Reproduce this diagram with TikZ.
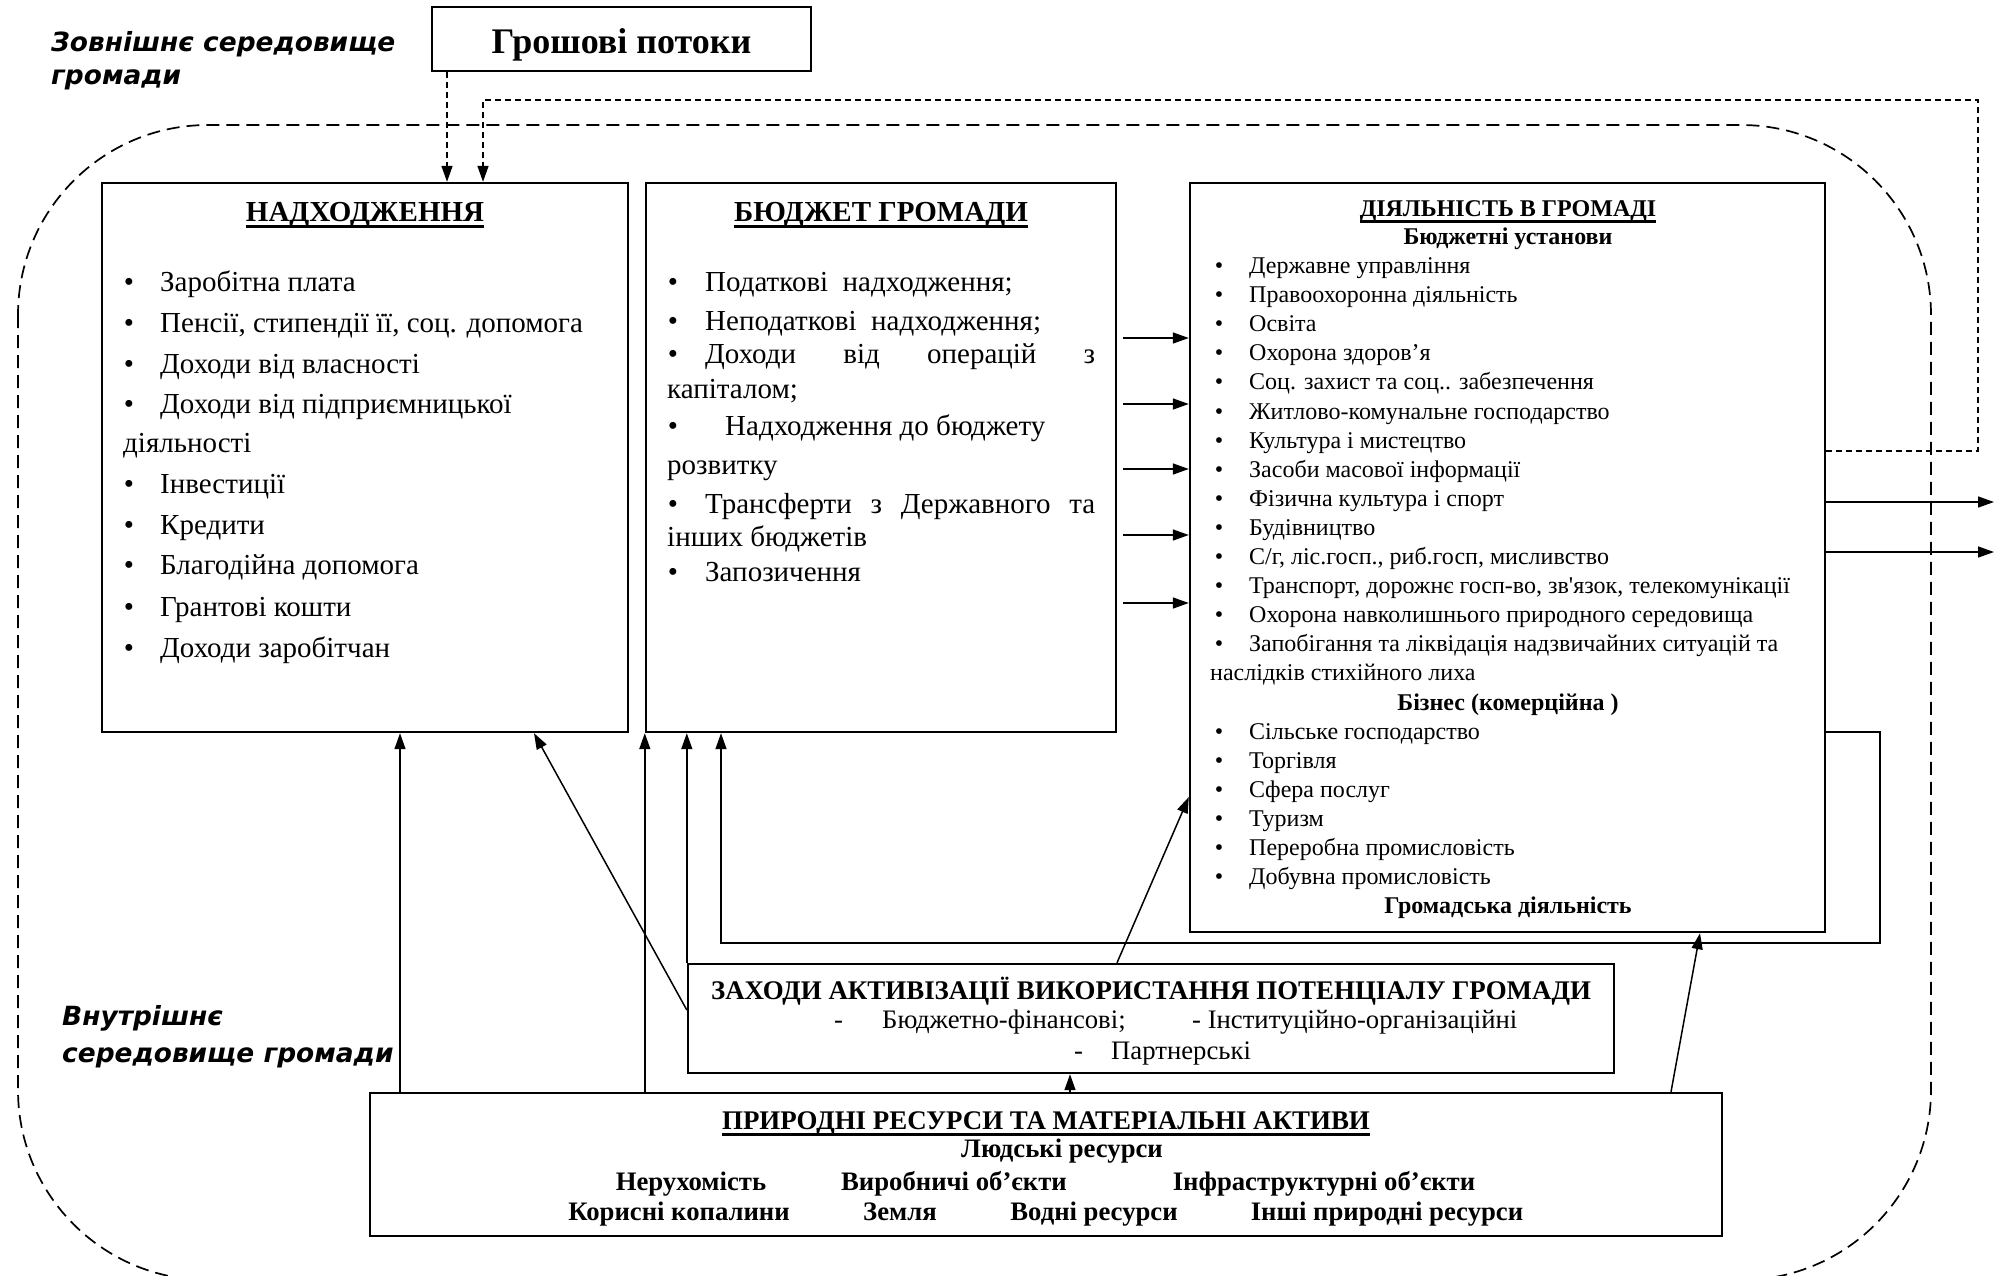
\documentclass[tikz,border=0pt]{standalone}
\usepackage{fontspec}
\setmainfont{Liberation Serif}
\newfontfamily\envfont{DejaVu Sans}
\usetikzlibrary{arrows.meta}

\newsavebox\ulsave
\newcommand\ulbox[1]{\sbox\ulsave{#1}\rlap{\vrule width\wd\ulsave height -3pt depth 6pt}\usebox\ulsave}

\tikzset{
  box/.style={draw, line width=2.4pt, inner sep=0pt},
  arr/.style={line width=1.5pt, -{Triangle[length=16pt,width=11pt]}},
  envline/.style={line width=1.7pt, dash pattern=on 13pt off 7pt},
  fbline/.style={line width=1.6pt, dash pattern=on 6pt off 4pt, -{Triangle[length=16pt,width=11pt]}},
  bigtext/.style={inner sep=0pt, font=\fontsize{29}{35}\selectfont, text height=25pt, text depth=4pt},
  bigtitle/.style={bigtext, font=\bfseries\fontsize{29}{35}\selectfont},
  smalltext/.style={inner sep=0pt, font=\fontsize{24}{29}\selectfont, text height=21pt, text depth=2pt},
  smallbold/.style={smalltext, font=\bfseries\fontsize{24}{29}\selectfont},
  midtext/.style={inner sep=0pt, font=\fontsize{26.7}{32}\selectfont, text height=21pt, text depth=2pt},
  midbold/.style={midtext, font=\bfseries\fontsize{26.7}{32}\selectfont},
  midtitle/.style={midtext, font=\bfseries\fontsize{26.9}{32}\selectfont},
  envlabel/.style={inner sep=0pt, anchor=west, text height=24pt, text depth=4pt,
    font=\envfont\bfseries\itshape\fontsize{26.4}{31}\selectfont},
}

\begin{document}
\begin{tikzpicture}[x=1pt,y=-1pt]
\useasboundingbox (0,0) rectangle (2002,1275);

% environment of the community
\draw[envline, rounded corners=190pt] (18,125) rectangle (1931,1280);
\node[envlabel] (outer1) at (51,41) {Зовнішнє середовище};
\node[envlabel] (outer2) at (51,74) {громади};
\node[envlabel] (inner1) at (62,1015) {Внутрішнє};
\node[envlabel] (inner2) at (62,1052) {середовище громади};

% boxes
\node[box, minimum width=379pt, minimum height=64pt, text height=30pt, text depth=2pt,
  font=\bfseries\fontsize{36}{40}\selectfont] (groshi) at (621.5,39) {Грошові потоки};
\node[box, minimum width=526pt, minimum height=549pt] (nadkh) at (365,457.5) {};
\node[box, minimum width=470pt, minimum height=549pt] (budget) at (881,457.5) {};
\node[box, minimum width=635pt, minimum height=749pt] (diial) at (1507.5,557.5) {};
\node[box, minimum width=926pt, minimum height=109pt] (zakhody) at (1151,1018.5) {};
\node[box, minimum width=1352pt, minimum height=143pt] (resursy) at (1046,1164.5) {};

% incomes
\node[bigtitle] (nadkhT) at (365,211) {\ulbox{НАДХОДЖЕННЯ}};
\foreach \yy/\txt in {281/Заробітна плата, 322/{Пенсії, стипендії її, соц. допомога},
    363/Доходи від власності, 403/Доходи від підприємницької, 483/Інвестиції,
    524/Кредити, 564/Благодійна допомога, 606/Грантові кошти, 647/Доходи заробітчан} {
  \node[bigtext] (nb\yy) at (129,\yy) {•};
  \node[bigtext, anchor=west] (nt\yy) at (160,\yy) {\txt};
}
\node[bigtext, anchor=west] (nt442) at (123,442) {діяльності};

% budget
\node[bigtitle] (budgetT) at (881,211) {\ulbox{БЮДЖЕТ ГРОМАДИ}};
\foreach \yy in {281,320,353,425,503,571}
  \node[bigtext] (bb\yy) at (673,\yy) {•};
\node[bigtext, anchor=west] (bt281) at (705,281) {Податкові~~надходження;};
\node[bigtext, anchor=west] (bt320) at (705,320) {Неподаткові~~надходження;};
\node[bigtext, anchor=west] (bt353) at (705,353) {\hbox to 390pt{Доходи\hfill від\hfill операцій\hfill з}};
\node[bigtext, anchor=west] (bt388) at (667,388) {капіталом;};
\node[bigtext, anchor=west] (bt425) at (725,425) {Надходження до бюджету};
\node[bigtext, anchor=west] (bt464) at (667,464) {розвитку};
\node[bigtext, anchor=west] (bt503) at (705,503) {\hbox to 390pt{Трансферти\hfill з\hfill Державного\hfill та}};
\node[bigtext, anchor=west] (bt536) at (667,536) {інших бюджетів};
\node[bigtext, anchor=west] (bt571) at (705,571) {Запозичення};

% activity
\node[smallbold] (diialT) at (1508,207) {\ulbox{ДІЯЛЬНІСТЬ В ГРОМАДІ}};
\node[smallbold] (diialH1) at (1508,235) {Бюджетні установи};
\foreach \txt [count=\i from 0] in {Державне управління, Правоохоронна діяльність, Освіта,
    Охорона здоров’я, Соц. захист та соц.. забезпечення, Житлово-комунальне господарство,
    Культура і мистецтво, Засоби масової інформації, Фізична культура і спорт, Будівництво,
    {С/г, ліс.госп., риб.госп, мисливство},
    {Транспорт, дорожнє госп-во, зв\textquotesingle язок, телекомунікації},
    Охорона навколишнього природного середовища,
    Запобігання та ліквідація надзвичайних ситуацій та} {
  \pgfmathsetmacro\yy{264+29.1*\i}
  \node[smalltext] (db\i) at (1219,\yy) {•};
  \node[smalltext, anchor=west] (dt\i) at (1249,\yy) {\txt};
}
\node[smalltext, anchor=west] (dt14) at (1210,671.4) {наслідків стихійного лиха};
\node[smallbold] (diialH2) at (1508,700.5) {Бізнес (комерційна )};
\foreach \txt [count=\i from 16] in {Сільське господарство, Торгівля, Сфера послуг, Туризм,
    Переробна промисловість, Добувна промисловість} {
  \pgfmathsetmacro\yy{264+29.1*\i}
  \node[smalltext] (db\i) at (1219,\yy) {•};
  \node[smalltext, anchor=west] (dt\i) at (1249,\yy) {\txt};
}
\node[smallbold] (diialH3) at (1508,904) {Громадська діяльність};

% measures
\node[midtitle] (zakhodyT) at (1151,990) {ЗАХОДИ АКТИВІЗАЦІЇ ВИКОРИСТАННЯ ПОТЕНЦІАЛУ ГРОМАДИ};
\node[midtext, anchor=west] (zd1) at (834,1019) {-};
\node[midtext, anchor=west] (zt1) at (882,1019) {Бюджетно-фінансові;};
\node[midtext, anchor=west] (zt2) at (1192,1019) {- Інституційно-організаційні};
\node[midtext, anchor=west] (zd3) at (1074,1050) {-};
\node[midtext, anchor=west] (zt3) at (1111,1050) {Партнерські};

% resources
\node[midtitle] (resursyT) at (1046,1120) {\ulbox{ПРИРОДНІ РЕСУРСИ ТА МАТЕРІАЛЬНІ АКТИВИ}};
\node[midbold] (rs0) at (1062,1148) {Людські ресурси};
\node[midbold] (rs1) at (691,1181) {Нерухомість};
\node[midbold] (rs2) at (954,1181) {Виробничі об’єкти};
\node[midbold] (rs3) at (1324,1181) {Інфраструктурні об’єкти};
\node[midbold] (rs4) at (679,1211) {Корисні копалини};
\node[midbold] (rs5) at (900,1211) {Земля};
\node[midbold] (rs6) at (1094,1211) {Водні ресурси};
\node[midbold] (rs7) at (1387,1211) {Інші природні ресурси};

% money flows
\draw[fbline] (groshi.south -| 447,0) -- (nadkh.north -| 447,0);
\draw[fbline] (diial.east |- 0,451) -- (1978,451) -- (1978,100) -- (483,100) -- (nadkh.north -| 483,0);

% budget to activity
\foreach \yy in {338,404,469,535,603}
  \draw[arr, shorten <=6pt] (budget.east |- 0,\yy) -- (diial.west |- 0,\yy);
\coordinate (out1) at (1994,502);
\coordinate (out2) at (1994,552);
\draw[arr] (diial.east |- out1) -- (out1);
\draw[arr] (diial.east |- out2) -- (out2);
\draw[arr] (diial.east |- 0,732) -- (1880,732) -- (1880,943) -- (721,943) -- (budget.south -| 721,0);

% from resources and measures
\draw[arr] (resursy.north -| 400,0) -- (nadkh.south -| 400,0);
\draw[arr] (resursy.north -| budget.south west) -- (budget.south west);
\draw[arr] (resursy.north -| 1070,0) -- (zakhody.south -| 1070,0);
\draw[arr] (resursy.north -| 1671,0) -- (diial.south -| 1700,0);
\draw[arr] (zakhody.west |- 0,1010) -- (nadkh.south -| 534,0);
\draw[arr] (zakhody.north west) -- (budget.south -| zakhody.north west);
\draw[arr] (zakhody.north -| 1117,0) -- (diial.west |- 0,797);
\end{tikzpicture}
\end{document}
